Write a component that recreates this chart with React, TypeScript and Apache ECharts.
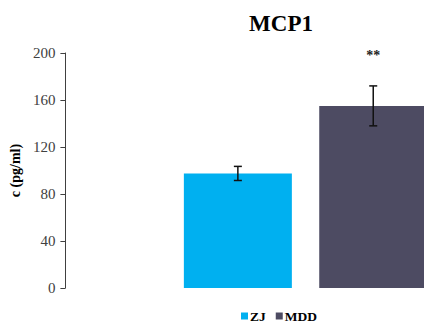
import React, { useEffect, useRef } from "react";
import * as echarts from "echarts";

const categories = ["ZJ", "MDD"];
const positions = [1, 2];
const means = [97.5, 155];
const errLow = [91.5, 138];
const errHigh = [103.5, 172];
const significance = ["", "**"];
const colors = ["#00B0F0", "#4D4B62"];
const yTicks = { min: 0, max: 200, interval: 40 };

const serif = "'Liberation Serif', 'Times New Roman', serif";

export default function App() {
  const ref = useRef<HTMLDivElement>(null);
  useEffect(() => {
    if (!ref.current) return;
    const chart = echarts.init(ref.current, undefined, { renderer: "svg" });
    const barSeries = categories.map((c, i) => ({
      name: c,
      type: "bar",
      stack: "all",
      barWidth: 108,
      clip: false,
      data: [[positions[i], means[i]]],
      itemStyle: { color: colors[i] },
    }));
    const errData = categories.map((_, i) => [positions[i], errLow[i], errHigh[i]]);
    chart.setOption({
      animation: false,
      title: {
        text: "MCP1",
        left: 276,
        top: 7,
        textAlign: "center",
        textStyle: { fontFamily: serif, fontSize: 23, fontWeight: "bold", color: "#000" },
      },
      legend: {
        bottom: -2,
        left: 236,
        orient: "horizontal",
        icon: "rect",
        itemWidth: 7,
        itemHeight: 7,
        itemGap: 10,
        data: categories,
        textStyle: { fontFamily: serif, fontSize: 13.5, fontWeight: "bold", color: "#000", padding: [0, 0, 0, -3] },
      },
      grid: { left: 63, top: 53, right: 0, height: 235, containLabel: false },
      xAxis: {
        type: "value",
        min: -0.274,
        max: 2.375,
        show: false,
        splitLine: { show: false },
      },
      yAxis: {
        type: "value",
        min: yTicks.min,
        max: yTicks.max,
        interval: yTicks.interval,
        position: "left",
        name: "c (pg/ml)",
        nameLocation: "middle",
        nameGap: 40,
        nameTextStyle: { fontFamily: serif, fontSize: 14, fontWeight: "bold", color: "#000" },
        axisLine: { show: true, onZero: false, lineStyle: { color: "#404040", width: 1 } },
        axisTick: { show: true, length: 5, lineStyle: { color: "#404040" } },
        axisLabel: { fontFamily: serif, fontSize: 15, color: "#404040", margin: 10 },
        splitLine: { show: false },
      },
      series: [
        ...barSeries,
        {
          type: "custom",
          data: errData,
          z: 10,
          renderItem: (params: any, api: any) => {
            const x = api.value(0);
            const lo = api.coord([x, api.value(1)]);
            const hi = api.coord([x, api.value(2)]);
            const cap = 4;
            const style = { stroke: "#111", lineWidth: 1.5 };
            const sig = significance[params.dataIndex];
            return {
              type: "group",
              children: [
                { type: "line", shape: { x1: hi[0], y1: hi[1], x2: lo[0], y2: lo[1] }, style },
                { type: "line", shape: { x1: hi[0] - cap, y1: hi[1], x2: hi[0] + cap, y2: hi[1] }, style },
                { type: "line", shape: { x1: lo[0] - cap, y1: lo[1], x2: lo[0] + cap, y2: lo[1] }, style },
                {
                  type: "text",
                  x: hi[0],
                  y: hi[1] - 30,
                  style: {
                    text: sig,
                    fontFamily: serif,
                    fontSize: 14,
                    fontWeight: "bold",
                    fill: "#222",
                    align: "center",
                    verticalAlign: "middle",
                  },
                },
              ],
            };
          },
        },
      ],
    });
    return () => chart.dispose();
  }, []);
  return <div ref={ref} style={{ width: 424, height: 326, position: "absolute", left: 0, top: 0 }} />;
}
